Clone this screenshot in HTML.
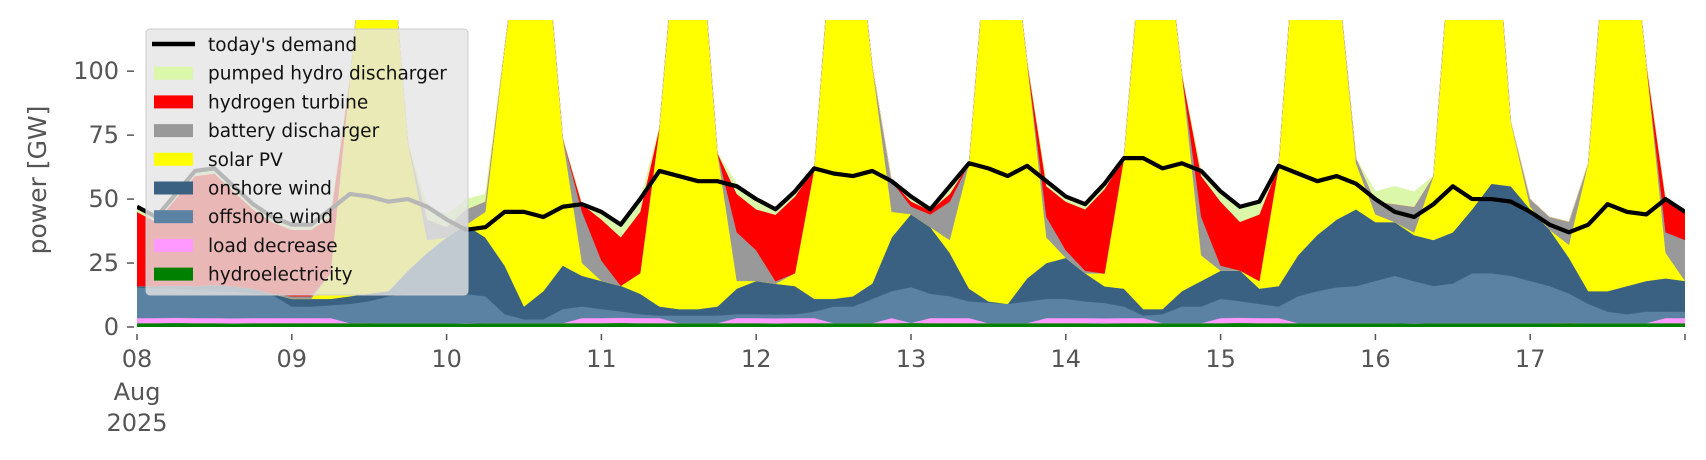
<!DOCTYPE html>
<html><head><meta charset="utf-8"><title>Power mix chart</title>
<style>
html,body{margin:0;padding:0;background:#fff;}
svg{display:block;font-family:"DejaVu Sans","Liberation Sans",sans-serif;}
</style></head>
<body>
<svg id="chart" width="1706" height="460" viewBox="0 0 1706 460" xmlns="http://www.w3.org/2000/svg">
  <defs><clipPath id="plotclip"><rect x="137" y="20" width="1548" height="307"/></clipPath></defs>
  <g id="areas" clip-path="url(#plotclip)"></g>
  <g id="demandg" clip-path="url(#plotclip)"></g>
  <g id="yaxis"></g>
  <g id="xaxis"></g>
  <text x="0" y="0" transform="translate(46,180) rotate(-90)" text-anchor="middle" font-size="25" fill="#555">power [GW]</text>
  <g id="legend"></g>
</svg>
<script>
const hours = [0,3,6,9,12,15,18,21,24,27,30,33,36,39,42,45,48,51,54,57,60,63,66,69,72,75,78,81,84,87,90,93,96,99,102,105,108,111,114,117,120,123,126,129,132,135,138,141,144,147,150,153,156,159,162,165,168,171,174,177,180,183,186,189,192,195,198,201,204,207,210,213,216,219,222,225,228,231,234,237,240];
const hydro = [1.5,1.5,1.6,1.5,1.5,1.4,1.5,1.5,1.5,1.5,1.5,1.5,1.6,1.5,1.5,1.5,1.5,1.4,1.5,1.5,1.5,1.5,1.5,1.5,1.5,1.6,1.5,1.5,1.5,1.5,1.5,1.5,1.5,1.4,1.5,1.5,1.5,1.5,1.5,1.5,1.6,1.5,1.5,1.5,1.5,1.5,1.5,1.5,1.5,1.5,1.4,1.5,1.5,1.5,1.5,1.5,1.5,1.6,1.5,1.5,1.5,1.5,1.5,1.5,1.5,1.5,1.4,1.5,1.5,1.5,1.5,1.5,1.5,1.5,1.6,1.5,1.5,1.5,1.5,1.5,1.5];
const loadDecrease = [2,2,2,2,2,2,2,2,2,2,2,0,0,0,0,0,0,0,0,0,0,0,0,2,2,2,2,2,0,0,0,2,2,2,2,2,0,0,0,2,0,2,2,2,0,0,0,2,2,2,2,2,2,0,0,0,2,2,2,2,0,0,0,0,0,0,0,0,0,0,0,0,0,0,0,0,0,0,0,2,2];
const offshore = [12,11.5,11.5,11,10.5,10.5,9.5,9,4.5,4.5,5,7.5,8.5,10.5,11.5,11.5,11.5,11.5,10.5,3.5,1.5,1.5,5.5,4.5,3.5,2.5,1.5,1,3,3,3,1.5,1.5,1.5,1.5,2.5,6.5,6.5,9.5,10.5,14,9.5,8.5,6.5,8,7.5,8.5,7.5,7.5,6.5,6,4.5,1,3.5,6.5,6.5,7.5,6.5,5.5,4.5,10.5,12.5,14,14.5,16.5,18.5,16.5,14.5,15.5,19.5,19.5,18.5,16.5,14.5,11.5,7.5,4.5,3.5,4.5,2.5,2.5];
const onshore = [0.5,1,1,1.5,2.5,2,2,0.5,3,3,2.5,3,3,2,9,16,22,27,23,19,5,11,17,12,11,10,8,3.5,2.5,2.5,3.5,10,13,12,11,5,3,4,6,21,28.5,26,17,5,0.5,0,9,14,16,11,6.5,7,2.5,2,6,10,11,12,6,8,16,22,26.5,30,23,21,18,18,20,25,35,35,28,22,14,5,8,11,12,13,12];
const solar = [0,0,0,0,0,0,0,0,0,0,10,85,160,150,50,5,0,0,10,85,160,150,50,5,0,0,8,70,160,160,60,3,0,0,5,51,150,160,85,10,0,0,5,49,150,160,85,10,0,0,5,51,150,160,85,10,0,0,3,47,140,160,100,18,3,0,1,25,125,160,125,25,1,0,5,50,150,160,85,10,0];
const battery = [0,0,0,0,0,0,0,0,1,1,0,0,0,0,0,8,4,6,4,0,0,0,0,20,8,0,0,0,0,0,0,19,12,1,0,0,0,0,0,12,3,5,15,0,0,0,0,8,3,1,0,0,0,0,0,15,2,0,0,0,0,0,0,2,5,7,10,0,0,0,0,0,3,5,9,0,0,0,0,8,16];
const hydrogen = [29,25,34,43,43.5,37,31,28,26,26,22,0,0,0,0,0,0,0,0,0,0,0,0,3,16,19,24,0,0,0,0,15,16,26,30,0,0,0,0,0,2,1.5,3,0,0,0,0,12,19,24,33,0,0,0,0,16,25,19,26,0,0,0,0,0,0,0,0,0,0,0,0,0,0,0,0,0,0,0,0,13,12];
const pumped = [2,2,2,2,2,2,2,2,2,2,3,0,0,0,0,5,5,4,3,0,0,0,0,0,3,5,5,0,0,0,0,4,4,2,2,0,0,0,0,0,2,1.5,3,0,0,0,0,2,2,2,2,0,0,0,0,2,4,6,5,0,0,0,0,0,4,7,6,0,0,0,0,0,0,0,0,0,0,0,0,0,0];
const demand = [47,43,52,61,62,55,48,43,40,40,46,52,51,49,50,47,42,38,39,45,45,43,47,48,45,40,50,61,59,57,57,55,50,46,53,62,60,59,61,57,51,46,55,64,62,59,63,57,51,48,56,66,66,62,64,61,53,47,49,63,60,57,59,56,50,45,43,48,55,50,50,49,45,40,37,40,48,45,44,50,45];
const yTicks = [0,25,50,75,100];
const xTickLabels = ["08","09","10","11","12","13","14","15","16","17"];

const NS = "http://www.w3.org/2000/svg";
const X0 = 137, X1 = 1685, Y0 = 327, YTOP = 20, HMAX = 240, VMAX = 120;
function xs(h){ return X0 + (X1 - X0) * h / HMAX; }
function ys(v){ return Y0 - (Y0 - YTOP) * v / VMAX; }
function mk(tag, attrs){ const e = document.createElementNS(NS, tag); for (const k in attrs) e.setAttribute(k, attrs[k]); return e; }

const layers = [
  {name:"hydroelectricity", vals:hydro, color:"#008000"},
  {name:"load decrease", vals:loadDecrease, color:"#ff99ff"},
  {name:"offshore wind", vals:offshore, color:"#5b82a3"},
  {name:"onshore wind", vals:onshore, color:"#3b6182"},
  {name:"solar PV", vals:solar, color:"#ffff00"},
  {name:"battery discharger", vals:battery, color:"#999999"},
  {name:"hydrogen turbine", vals:hydrogen, color:"#ff0000"},
  {name:"pumped hydro discharger", vals:pumped, color:"#daf7aa"}
];
const areas = document.getElementById("areas");
let base = hours.map(() => 0);
layers.forEach(L => {
  const top = base.map((b, i) => b + L.vals[i]);
  let d = "M" + hours.map((h, i) => xs(h).toFixed(2) + "," + ys(top[i]).toFixed(2)).join("L");
  for (let i = hours.length - 1; i >= 0; i--) d += "L" + xs(hours[i]).toFixed(2) + "," + ys(base[i]).toFixed(2);
  d += "Z";
  const p = mk("path", {d: d, fill: L.color, stroke: L.color, "stroke-width": "0.4"});
  
  
  areas.appendChild(p);
  base = top;
});

const dl = mk("path", {d: "M" + hours.map((h, i) => xs(h).toFixed(2) + "," + ys(demand[i]).toFixed(2)).join("L"), fill:"none", stroke:"#000", "stroke-width":"4.2", "stroke-linejoin":"round"});


document.getElementById("demandg").appendChild(dl);

const ya = document.getElementById("yaxis");
yTicks.forEach(t => {
  const tk = mk("line", {x1:127, x2:134, y1:ys(t), y2:ys(t), stroke:"#555", "stroke-width":"1.5"});
  
  
  ya.appendChild(tk);
  const tx = mk("text", {x:119, y:ys(t) + 8, "text-anchor":"end", "font-size":"24", fill:"#555"});
  tx.textContent = String(t);
  
  
  ya.appendChild(tx);
});

const xa = document.getElementById("xaxis");
for (let k = 0; k <= 10; k++) {
  const x = xs(k * 24);
  const tk = mk("line", {x1:x, x2:x, y1:334, y2:340, stroke:"#555", "stroke-width":"1.5"});
  
  
  xa.appendChild(tk);
  if (k < xTickLabels.length) {
    const tx = mk("text", {x:x, y:367, "text-anchor":"middle", "font-size":"24", fill:"#555"});
    tx.textContent = xTickLabels[k];
    
    
    xa.appendChild(tx);
  }
}
["Aug","2025"].forEach((s, i) => {
  const tx = mk("text", {x:xs(0), y:400 + i * 31, "text-anchor":"middle", "font-size":"24", fill:"#555"});
  tx.textContent = s;
  
  
  xa.appendChild(tx);
});

const lg = document.getElementById("legend");
const bg = mk("rect", {x:146, y:29, width:322, height:266, rx:4, fill:"#e5e5e5", "fill-opacity":"0.8", stroke:"#cccccc", "stroke-width":"1"});


lg.appendChild(bg);
const entries = [{name:"today's demand", line:true}].concat(layers.slice().reverse());
entries.forEach((e, i) => {
  const cy = 45 + i * 28.7;
  if (e.line) {
    const ln = mk("line", {x1:152, x2:195, y1:cy - 1, y2:cy - 1, stroke:"#000", "stroke-width":"4.5"});
    
    
    lg.appendChild(ln);
  } else {
    const r = mk("rect", {x:154, y:cy - 7, width:39, height:13, fill:e.color});
    
    
    lg.appendChild(r);
  }
  const t = mk("text", {x:208, y:cy + 6, "font-size":"18.5", fill:"#111"});
  t.textContent = e.name;
  
  
  lg.appendChild(t);
});
</script>
</body></html>
